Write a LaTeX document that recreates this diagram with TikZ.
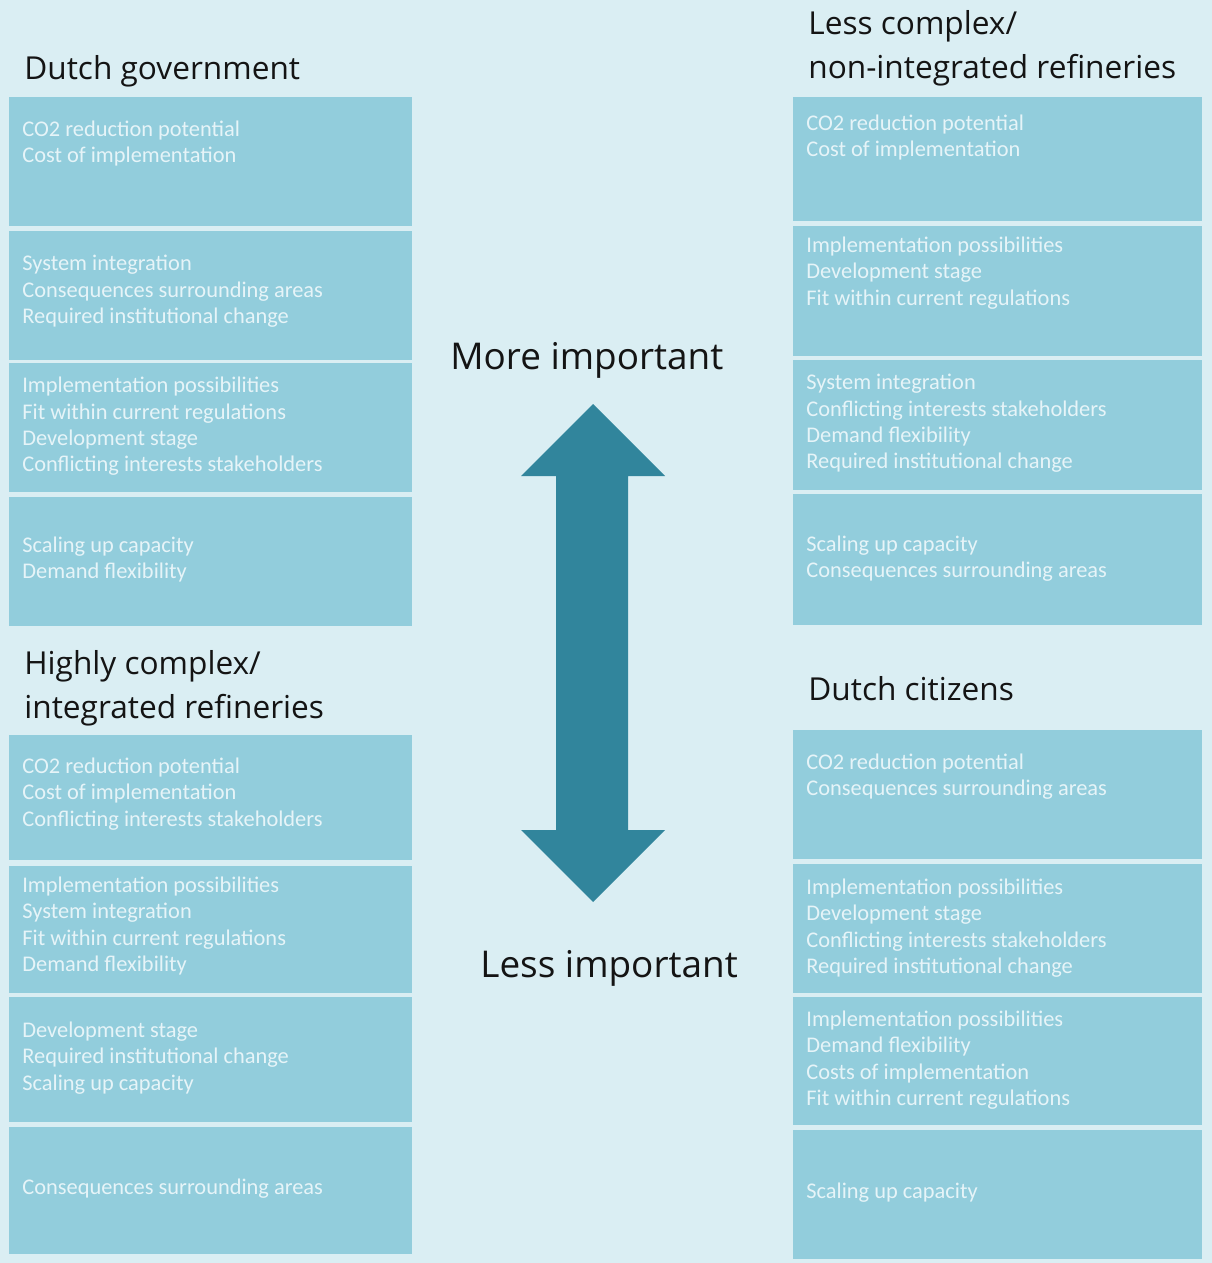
\documentclass[tikz,border=0pt]{standalone}
\usepackage{fontspec}
\setmainfont{Carlito}
\newfontfamily\headfont{Open Sans}
\usetikzlibrary{positioning}
\definecolor{bgblue}{HTML}{DAEEF3}
\definecolor{boxblue}{HTML}{92CDDC}
\definecolor{arrowblue}{HTML}{31859C}
\definecolor{boxtext}{HTML}{E6F4F8}

\begin{document}
\begin{tikzpicture}[x=0.02cm,y=-0.02cm,
  head/.style={anchor=base west,inner sep=0pt,text=black!92,font=\headfont\fontsize{18}{22}\selectfont},
  scale label/.style={head,font=\headfont\fontsize{21}{25}\selectfont},
  crit/.style={anchor=west,inner sep=0pt,align=left,text=boxtext,font=\fontsize{12.75}{15}\selectfont}]
  \fill[bgblue] (0,0) rectangle (1212,1263);

  % boxes, left and right
  \foreach \ya/\yb in {97/226,231/360,363/492,497/626,735/860,866/993,997/1122,1127/1254}
    \fill[boxblue] (9,\ya) rectangle (412,\yb);
  \foreach \ya/\yb in {97/221,226/356,360/490,494/625,730/859,864/993,997/1125,1130/1259}
    \fill[boxblue] (793,\ya) rectangle (1202,\yb);

  % titles
  \node[head] (gov) at (24,80) {Dutch government};
  \node[head] (high1) at (24,674) {Highly complex/};
  \node[head] (high2) at (24,718) {integrated refineries};
  \node[head] (low1) at (808,35) {Less complex/};
  \node[head] (low2) at (808,79) {non-integrated refineries};
  \node[head] (cit) at (808,700) {Dutch citizens};
  \node[scale label] (more) at (450,370) {More important};
  \node[scale label] (less) at (480,977) {Less important};

  % Dutch government
  \node[crit] (gov1) at (22,143.5) {CO2 reduction potential\\Cost of implementation};
  \node[crit] (gov2) at (22,291.5) {System integration\\Consequences surrounding areas\\Required institutional change};
  \node[crit] (gov3) at (22,426.5) {Implementation possibilities\\Fit within current regulations\\Development stage\\Conflicting interests stakeholders};
  \node[crit] (gov4) at (22,559.5) {Scaling up capacity\\Demand flexibility};

  % highly complex
  \node[crit] (high1b) at (22,794) {CO2 reduction potential\\Cost of implementation\\Conflicting interests stakeholders};
  \node[crit] (high2b) at (22,926) {Implementation possibilities\\System integration\\Fit within current regulations\\Demand flexibility};
  \node[crit] (high3b) at (22,1058) {Development stage\\Required institutional change\\Scaling up capacity};
  \node[crit] (high4b) at (22,1189) {Consequences surrounding areas};

  % less complex
  \node[crit] (low1b) at (806,137.5) {CO2 reduction potential\\Cost of implementation};
  \node[crit] (low2b) at (806,273) {Implementation possibilities\\Development stage\\Fit within current regulations};
  \node[crit] (low3b) at (806,423.5) {System integration\\Conflicting interests stakeholders\\Demand flexibility\\Required institutional change};
  \node[crit] (low4b) at (806,558.5) {Scaling up capacity\\Consequences surrounding areas};

  % Dutch citizens
  \node[crit] (cit1) at (806,776.5) {CO2 reduction potential\\Consequences surrounding areas};
  \node[crit] (cit2) at (806,928) {Implementation possibilities\\Development stage\\Conflicting interests stakeholders\\Required institutional change};
  \node[crit] (cit3) at (806,1060) {Implementation possibilities\\Demand flexibility\\Costs of implementation\\Fit within current regulations};
  \node[crit] (cit4) at (806,1193) {Scaling up capacity};

  \fill[arrowblue] (593,404) -- (665,476) -- (628,476) -- (628,830) -- (665,830) -- (593,902)
    -- (521,830) -- (556,830) -- (556,476) -- (521,476) -- cycle;
\end{tikzpicture}
\end{document}
